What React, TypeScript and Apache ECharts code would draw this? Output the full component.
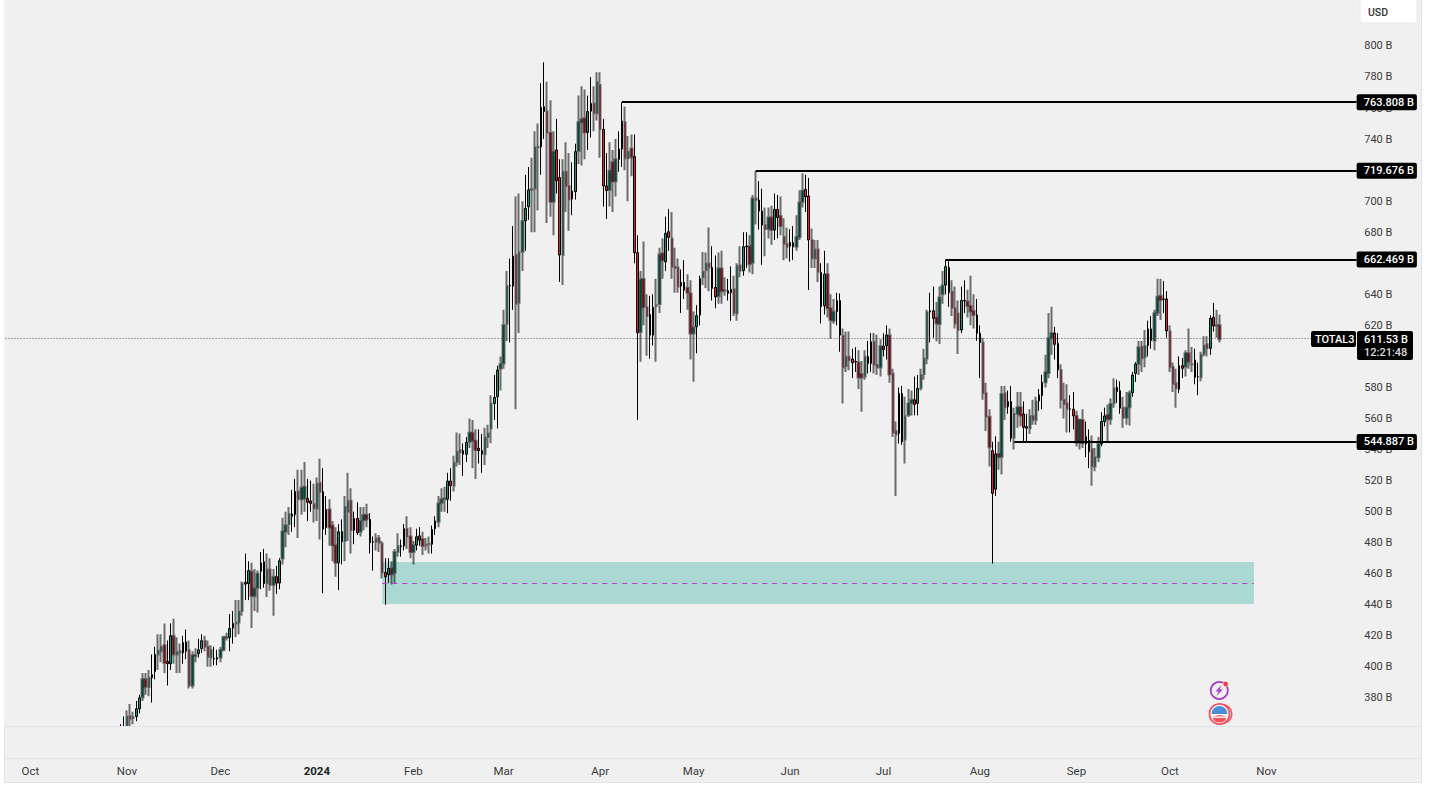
import React, { useEffect, useRef } from "react";
import * as echarts from "echarts";

// Each row is [open, close, low, high], in billions of USD.
const lateOct23 = [
  [358, 360, 355, 363], [358, 361, 354, 368],
];
const nov23 = [
  [360, 368, 355, 372], [368.2, 366.5, 360, 376], [367.5, 367, 363, 371], [368, 373, 365, 378], [373, 380, 370, 382],
  [380.5, 392, 378, 396], [392, 387, 382, 396], [387, 393, 381, 398], [393, 395, 377, 408], [397, 408, 392, 413],
  [408, 410.5, 398, 421], [410, 413, 403, 421], [414, 402.5, 396, 428], [403.5, 402, 388, 417], [402, 420, 398, 428],
  [420, 408, 402, 431], [408, 409.6, 396, 419], [409.3, 410, 396, 415], [409, 415.7, 402, 420], [416, 410, 405, 424],
  [410.8, 388, 386, 417], [388, 407.5, 386, 410], [407, 407.5, 403, 412], [408.6, 411, 406, 418], [411.8, 416.8, 409, 421],
  [416.8, 413, 410, 420], [413, 406.5, 400, 417], [406, 410.8, 400, 414], [405.5, 405, 401, 413], [405, 405.8, 401, 411],
];
const dec23 = [
  [406, 410.8, 403, 413], [411, 419, 410, 420], [419, 418.7, 417, 422], [419, 424.7, 410, 434], [425, 428, 415, 436],
  [428, 428.4, 419, 443], [428.6, 435.7, 421, 443], [436, 453.7, 433, 455], [454.4, 453.3, 443, 473], [453.7, 462, 443, 468],
  [461.5, 445.6, 425, 467], [445.6, 450.5, 436, 463], [451, 460, 435, 462], [461.6, 467, 450, 474], [467.7, 453.7, 451, 476],
  [453.7, 462.8, 445, 473], [462.8, 452.7, 449, 470], [452.7, 458, 433, 463], [458, 454, 447, 465], [454, 468.3, 450, 470],
  [469.8, 487.2, 466, 496], [487, 491.3, 477, 500], [492, 498.4, 485, 503], [498.4, 497, 487, 514], [498, 513, 490, 521],
  [513, 508, 483, 527], [508, 515.4, 498, 527], [508.5, 516, 500, 532], [508.5, 506, 494, 521], [506.8, 505.3, 500, 520],
  [504.8, 502, 493, 518],
];
const jan24 = [
  [502, 518, 494, 522], [518.6, 512.8, 482, 534], [512.8, 488.7, 447.4, 528], [489.8, 501.4, 485, 510], [501.4, 489.8, 478, 508],
  [491, 478.4, 468, 494], [478.4, 467, 458, 490], [467, 487, 449.4, 492], [487, 480.6, 466, 495], [481, 503, 468, 510],
  [500, 507, 481, 525], [507, 488, 473, 515], [488, 495.6, 479, 500], [495.6, 486.4, 485, 506], [487, 494, 484, 503],
  [494.5, 497.8, 488, 503], [498, 495, 490, 505], [495, 480, 473, 499], [480.6, 480.4, 462, 484], [480.6, 482.7, 475, 486],
  [483, 480, 474, 485], [479.5, 460.8, 457, 481], [460.8, 458, 440, 470], [459.5, 463.4, 454, 470], [463.4, 459.5, 453, 468],
  [460.6, 474, 454, 476], [474, 477.8, 471, 486], [478, 477.5, 471, 482], [477.8, 489, 475, 492], [489, 483.8, 476, 497],
  [484, 474, 470, 490],
];
const feb24 = [
  [474, 478.4, 466, 481], [478.4, 483.8, 475, 489], [484.4, 481.7, 478, 490], [482.3, 477.8, 472, 487], [478.8, 478.4, 475, 483],
  [479, 479.3, 473, 484], [479, 488.5, 473, 491], [489, 494, 485, 497], [493.5, 505.3, 490, 510], [505.5, 508, 500, 515],
  [508, 508.5, 500, 516], [508, 519.7, 499, 525], [519.7, 516.7, 507, 528], [516.7, 531.5, 513, 536], [532, 538.6, 529, 551],
  [539.7, 538.2, 530, 550.4], [539.3, 537, 523, 544], [537, 544.6, 532, 548], [545, 550.8, 541, 560], [550.8, 545.7, 528, 559],
  [545.7, 539.7, 521, 553], [540.8, 539.3, 531, 553], [539.3, 537, 525, 550], [537, 547.8, 530, 554], [548, 550.4, 541, 556],
  [553.6, 569.7, 544, 575], [569.7, 573.6, 559, 588], [574, 591.2, 553.6, 594], [592, 595, 578, 600],
];
const mar24 = [
  [595.5, 620.2, 592, 630], [621, 645.3, 610, 655], [645.5, 645.8, 609, 663], [645.3, 664.6, 630, 684], [665.3, 634, 566, 703],
  [634.6, 667, 615, 705], [667.4, 687.2, 655, 700], [687.4, 695.4, 668, 717], [696.4, 707.2, 688, 722], [707.4, 707.7, 680, 728],
  [708.2, 734.7, 680, 745], [734.7, 735, 694, 750], [735, 760.5, 717, 776], [760.9, 757.7, 740, 789.5], [758, 744, 686, 777],
  [744, 699.7, 690, 765], [699.7, 731.9, 678, 745], [733, 713.2, 705, 753], [715.3, 665.3, 648, 727], [665.3, 719, 646, 727],
  [719, 709.8, 693, 738], [709.8, 701, 681, 731], [701.4, 706.5, 691, 725], [706.1, 731.9, 701, 737], [732.3, 750.8, 724, 768],
  [750.8, 752.7, 723, 774], [753.4, 744.3, 727, 772], [744.3, 757.7, 733, 768], [758, 763, 741, 780], [763, 756.6, 745, 774],
  [756.6, 776.6, 752, 783],
];
const apr24 = [
  [774.8, 746.5, 728, 783], [746.3, 709.8, 696.5, 753], [709.8, 706.8, 688.5, 731], [707.2, 719.6, 696.5, 738], [725, 712.6, 693, 733],
  [712.8, 727, 703, 740], [727, 733.6, 719, 745], [733.6, 751.6, 722, 763.8], [750.8, 727.6, 720, 761], [727.6, 731.9, 700, 742],
  [734, 728.2, 716, 743], [728.7, 666.8, 660, 743], [666.8, 615.2, 559, 678], [615.8, 649.6, 596.5, 655], [649.8, 631.6, 620, 674],
  [631.6, 626, 600.5, 640], [627, 613.7, 598.5, 639], [613.7, 631.6, 607, 640], [632.4, 633, 596.5, 650], [633.7, 665.7, 628, 670],
  [666.4, 662, 650, 676], [661, 679.3, 655, 690], [680.3, 676.7, 668, 695], [676, 657.8, 650, 693], [657.8, 657, 641, 670],
  [657.3, 644.9, 641, 663], [645.3, 647.7, 628, 656], [647.7, 642.7, 637, 662], [644.2, 641, 630, 653], [640.6, 614.8, 598, 649],
];
const may24 = [
  [614.8, 618.7, 583.7, 629], [619.1, 626.2, 602, 633], [626.6, 650.2, 620, 652], [651, 654.5, 646, 667.3], [655.6, 659.9, 644, 667],
  [659.9, 657.3, 642, 683], [657.3, 643.8, 636, 671], [644.4, 638.4, 631, 665], [638.8, 656.7, 634, 667], [656.7, 642, 634, 668],
  [642.3, 642.6, 639, 651], [642.3, 640.6, 636, 650], [641, 643.2, 623, 658], [643.2, 628, 626, 652], [627.7, 658.4, 623, 660],
  [658.8, 655.2, 651, 671], [655.2, 670.6, 652, 680], [670.6, 671, 657, 680], [671, 659.3, 654, 678], [660.3, 701.8, 653, 704],
  [701.8, 700.7, 685, 719.676], [700.7, 693.6, 681.7, 713], [693.6, 684.6, 659, 708], [684.6, 682, 664.6, 696], [682, 689.5, 676, 696],
  [689.5, 681.4, 672, 697], [681.4, 694.7, 675, 705], [694.7, 689.5, 676, 704], [690.4, 684, 678, 703], [677, 672.4, 662, 689],
  [672.4, 670.6, 663, 683],
];
const jun24 = [
  [671, 673.4, 661, 682], [673.4, 670.6, 662, 684], [670.6, 677, 668, 691], [677, 699.2, 675, 707], [699.7, 706.7, 696, 718],
  [707.6, 702.9, 693, 717], [703.3, 675, 642.8, 715], [675, 663.1, 657, 682.4], [663.1, 668.9, 657, 675], [668.9, 654.5, 648, 675],
  [654.1, 632, 621.2, 660], [632.6, 653, 627, 668], [653, 631, 625, 660], [631, 623.4, 611.2, 640], [623, 628.8, 621, 637],
  [628.8, 635.9, 620, 641], [635.9, 613.7, 603, 640.6], [613.3, 592.9, 569.7, 618], [593.8, 599.8, 590, 616], [599.8, 597.6, 591, 616],
  [598.3, 595.9, 586, 605], [596.8, 596.5, 590, 606], [596, 586.4, 579, 604], [588.6, 586.4, 564.3, 597], [587, 599.8, 585, 604],
  [599.8, 595.5, 589, 610], [595.5, 609.4, 590, 615], [609.4, 594.4, 589, 615], [594.4, 592.9, 588, 614], [592.9, 606.6, 587, 611],
];
const jul24 = [
  [606.6, 604.5, 600, 615], [606.9, 613.7, 598, 620], [613.7, 588.4, 583, 618], [589, 550.8, 548, 592], [552, 549.7, 510, 558],
  [550.4, 576.1, 543.8, 580], [576.1, 545, 543, 581], [546.5, 561.5, 531, 574], [562.2, 569.7, 561, 579], [570, 572, 562, 578],
  [572, 569, 562, 587], [569.7, 579.4, 562, 588], [579.7, 588, 578, 592], [588.6, 598.7, 585, 605], [598.7, 628.4, 595, 630],
  [628.7, 629.4, 609, 641], [629.4, 624.5, 612, 645], [625, 621.2, 609.7, 635], [620.8, 638, 608, 645], [640, 645.5, 634, 655],
  [646, 657.8, 640, 662.469], [657.3, 641, 632, 662.469], [641.6, 631.3, 626, 649], [631, 621.2, 618, 645], [627.7, 617, 601.6, 636],
  [617, 636, 615, 645], [636, 635.7, 628, 649], [635.3, 632.5, 625, 643], [632.5, 629, 620, 652], [629.3, 626.7, 618, 640],
  [626.7, 614.9, 610, 637],
];
const aug24 = [
  [614.9, 608.9, 586, 620], [609, 576.2, 572, 612], [576.2, 561.2, 552, 583], [561.2, 541.4, 529, 566], [539.3, 511.8, 466.5, 545],
  [514.4, 537.1, 510, 548.5], [537.1, 535, 527, 545], [535.4, 575.8, 524, 581], [576.2, 567.2, 559, 581], [567.6, 570.9, 563, 578],
  [570.9, 547.2, 545, 581], [547.6, 562.9, 540, 567], [563, 567.2, 554, 577], [567.2, 561.8, 555, 577], [562.9, 554.3, 545, 571],
  [554.8, 553.7, 545, 563], [553.7, 561.6, 550, 566], [561.6, 559, 556, 572], [559, 570.9, 556, 574], [571.3, 575.2, 565, 579],
  [574.8, 583.3, 566, 588], [583.3, 589.8, 580, 601], [589.3, 611.7, 586, 628], [611.7, 615, 601, 632], [615, 607.8, 598, 619],
  [608.4, 591.3, 586, 615], [591.3, 572, 566.5, 595], [572, 569.4, 560, 583], [569.8, 566.2, 551, 582], [566.2, 566, 551, 575],
  [566, 561.6, 553, 577],
];
const sep24 = [
  [561.6, 544.6, 542, 565], [544.6, 559, 540, 560], [559, 544, 541, 566], [543.6, 548.3, 535, 558], [546, 538.6, 528, 553],
  [540.4, 529, 516.6, 549], [529, 535, 526, 541], [535, 543.6, 532, 548], [543.6, 558, 542, 564], [558, 561.6, 555, 567],
  [562.3, 559.5, 544.2, 569], [559.5, 569.4, 556, 573], [569.8, 579.5, 567, 586], [580, 577.3, 570, 585], [578, 566.6, 563, 584],
  [567, 560.5, 554, 574], [560.5, 567, 556, 577], [567.2, 576.2, 555.5, 578], [576.7, 588, 574, 590], [589, 595.1, 583.5, 596.3],
  [595.1, 605.9, 588, 610], [606.3, 598.8, 590, 610], [599.4, 606.7, 593, 617], [607, 617.7, 600, 623], [617.7, 610.2, 605, 626],
  [610.2, 627.8, 604, 630], [628.2, 638.5, 626, 650], [639, 636.4, 623.5, 650], [637, 636.8, 628, 648.5], [637, 616.4, 612, 642],
];
const oct24 = [
  [616, 593, 590, 620], [593.4, 582.3, 577, 596], [582.7, 579.5, 567, 592], [578.8, 594, 576.5, 600], [594, 592.3, 586, 599],
  [593.4, 602, 587, 604], [602, 596.6, 592, 618], [595, 594.9, 590, 606], [597.7, 586.5, 582, 605], [587, 586.9, 575, 596],
  [586.5, 601, 584, 603], [601.6, 607, 600, 613], [607.8, 605.2, 600, 613], [605.2, 624.5, 601, 626.5], [625.2, 619.6, 616, 634.4],
  [620, 619.9, 612, 630], [620, 611, 609, 627],
];

const candleRows = [
  ...lateOct23, ...nov23, ...dec23, ...jan24, ...feb24, ...mar24, ...apr24,
  ...may24, ...jun24, ...jul24, ...aug24, ...sep24, ...oct24,
];
const firstCandleIndex = 37;

// 600, 660 and 720 lie wholly behind the price tags in the reference
const priceTicks = [380, 400, 420, 440, 460, 480, 500, 520, 540, 560, 580, 620, 640, 680, 700, 740, 760, 780, 800];
const monthNames = ["2024", "Feb", "Mar", "Apr", "May", "Jun", "Jul", "Aug", "Sep", "Oct", "Nov", "Dec"];

const levels = [
  { value: 763.808, label: "763.808 B", startIndex: 198 },
  { value: 719.676, label: "719.676 B", startIndex: 241 },
  { value: 662.469, label: "662.469 B", startIndex: 302 },
  { value: 544.887, label: "544.887 B", startIndex: 324 },
];
const lastPrice = 611.53;
const zoneTop = 467.5;
const zoneBottom = 440.5;
const zoneMid = 454;
const zoneStartIndex = 121;
const zoneEndIndex = 401;

const UP = "#089981";
const DOWN = "#ee1c30";
const FONT = "Roboto, sans-serif";

// one category per day, starting a week before the first axis label
const dayCount = 435;
const categories: string[] = [];
for (let i = 0; i < dayCount; i++) {
  categories.push(new Date(Date.UTC(2023, 8, 23 + i)).toISOString().slice(0, 10));
}

const candleData = categories.map((_, i) => {
  const row = candleRows[i - firstCandleIndex];
  if (!row) return { value: ["-", "-", "-", "-"] };
  const sharp = i % 5 === 2 || i % 5 === 3;
  const fill = row[1] < row[0] ? DOWN : UP;
  const edge = sharp ? "#000" : "rgba(0,0,0,0.55)";
  return {
    value: row,
    itemStyle: {
      color: fill,
      color0: fill,
      borderColor: edge,
      borderColor0: edge,
      borderWidth: sharp ? 1 : 2,
    },
  };
});

export default function App() {
  const ref = useRef<HTMLDivElement>(null);
  useEffect(() => {
    const chart = echarts.init(ref.current!, null, { renderer: "svg" });
    const tag = (text: string, x: number, y: number, fill = "#fff", size = 11) => ({
      type: "text",
      x,
      y,
      z: 60,
      style: { text, fill, font: `500 ${size}px ${FONT}`, textVerticalAlign: "middle" },
    });
    const box = (x: number, y: number, width: number, height: number) => ({
      type: "rect",
      z: 59,
      shape: { x, y, width, height, r: 2 },
      style: { fill: "#000" },
    });
    const rule = (x1: number, y1: number, x2: number, y2: number) => ({
      type: "line",
      z: 31,
      shape: { x1, y1, x2, y2 },
      style: { stroke: "#e0e3eb", lineWidth: 1 },
    });
    chart.setOption({
      animation: false,
      backgroundColor: "#fff",
      grid: { left: 4, top: 0, width: 1354.2, height: 726, containLabel: false },
      xAxis: {
        type: "category",
        data: categories,
        axisLine: { show: false },
        axisTick: { show: false },
        splitLine: { show: false },
        z: 32,
        axisLabel: {
          margin: 39,
          color: "#3a3a3a",
          fontSize: 11.5,
          fontFamily: FONT,
          hideOverlap: false,
          interval: (_: number, v: string) => v.endsWith("-01"),
          formatter: (v: string) => {
            const m = Number(v.slice(5, 7)) - 1;
            return m === 0 ? `{b|${monthNames[0]}}` : monthNames[m];
          },
          rich: { b: { fontWeight: "bold", fontSize: 11.5, fontFamily: FONT, color: "#222" } },
        },
      },
      yAxis: {
        type: "value",
        position: "right",
        min: 361.9,
        max: 829.6,
        scale: true,
        axisLine: { show: false },
        axisTick: { show: false },
        splitLine: { show: false },
        axisLabel: {
          customValues: priceTicks,
          margin: 6,
          color: "#3a3a3a",
          fontSize: 11,
          fontFamily: FONT,
          formatter: (v: number) => `${v} B`,
        },
      },
      series: [
        {
          type: "candlestick",
          barWidth: 2,
          clip: true,
          data: candleData,
          markArea: {
            silent: true,
            itemStyle: { color: "#acd8d3" },
            data: [
              [
                { xAxis: categories[zoneStartIndex], yAxis: zoneTop },
                { xAxis: categories[zoneEndIndex], yAxis: zoneBottom },
              ],
            ],
          },
          markLine: {
            silent: true,
            symbol: "none",
            precision: 3,
            data: [
              ...levels.map((l) => [
                {
                  xAxis: categories[l.startIndex],
                  yAxis: l.value,
                  lineStyle: { color: "#000", width: 2, type: "solid" },
                  label: {
                    show: true,
                    position: "end",
                    distance: 0,
                    formatter: l.label,
                    backgroundColor: "#000",
                    color: "#fff",
                    fontSize: 11,
                    fontFamily: FONT,
                    fontWeight: 500,
                    padding: [3, 3, 2, 7],
                    borderRadius: 2,
                  },
                },
                { xAxis: categories[dayCount - 1], yAxis: l.value },
              ]),
              [
                {
                  xAxis: categories[0],
                  yAxis: lastPrice,
                  lineStyle: { color: "#555", width: 1, type: [1, 2] },
                  label: { show: false },
                },
                { xAxis: categories[420], yAxis: lastPrice },
              ],
              [
                {
                  xAxis: categories[zoneStartIndex],
                  yAxis: zoneMid,
                  lineStyle: { color: "#b93ecb", width: 1, type: [5, 5] },
                  label: { show: false },
                },
                { xAxis: categories[zoneEndIndex], yAxis: zoneMid },
              ],
            ],
          },
        },
      ],
      graphic: [
        { type: "rect", z: -5, shape: { x: 4, y: 0, width: 1418, height: 783 }, style: { fill: "#f0f0f0" } },
        // the time-scale strip hides whatever runs below the price pane
        { type: "rect", z: 30, shape: { x: 4, y: 727, width: 1418, height: 56 }, style: { fill: "#f0f0f0" } },
        rule(4, 726.5, 1422, 726.5),
        rule(4, 758.5, 1422, 758.5),
        rule(4, 782.5, 1422, 782.5),
        rule(1421.5, 0, 1421.5, 783),
        rule(4.5, 726, 4.5, 783),
        {
          type: "rect",
          z: 5,
          shape: { x: 1360, y: -3, width: 57, height: 26, r: 3 },
          style: { fill: "#fff", stroke: "#e9ebf0", lineWidth: 1 },
        },
        tag("USD", 1368, 12, "#333", 10.5),
        box(1311, 331, 45, 16),
        tag("TOTAL3", 1315, 339.5),
        box(1357, 331, 56, 29),
        tag("611.53 B", 1364, 339.5),
        tag("12:21:48", 1364, 352.5, "#ddd"),
        // event icons
        {
          type: "circle",
          z: 20,
          shape: { cx: 1219.3, cy: 690.5, r: 8.5 },
          style: { fill: "none", stroke: "#a63fc4", lineWidth: 1.8 },
        },
        {
          type: "polygon",
          z: 20,
          shape: { points: [[1221.5, 685], [1215.5, 691.5], [1218.6, 691.5], [1216.5, 696], [1222.8, 689.5], [1219.7, 689.5]] },
          style: { fill: "#a63fc4" },
        },
        { type: "circle", z: 21, shape: { cx: 1225.7, cy: 684, r: 2.6 }, style: { fill: "#f23645", stroke: "#f0f0f0", lineWidth: 0.6 } },
        { type: "circle", z: 20, shape: { cx: 1222.3, cy: 714, r: 9.5 }, style: { fill: "none", stroke: "#f0515f", lineWidth: 1.4 } },
        { type: "circle", z: 20, shape: { cx: 1219.5, cy: 714, r: 10 }, style: { fill: "#fff", stroke: "#f0515f", lineWidth: 1.8 } },
        {
          type: "sector",
          z: 21,
          shape: { cx: 1219.5, cy: 714, r: 8, startAngle: Math.PI, endAngle: Math.PI * 2 },
          style: { fill: "#4a90d9" },
        },
        {
          type: "sector",
          z: 21,
          shape: { cx: 1219.5, cy: 715, r: 7.5, startAngle: 0.2, endAngle: Math.PI - 0.2 },
          style: { fill: "#f0515f" },
        },
        { type: "rect", z: 22, shape: { x: 1212, y: 716.5, width: 15, height: 1.4 }, style: { fill: "#fff" } },
      ],
    });
    return () => chart.dispose();
  }, []);
  return (
    <div
      ref={ref}
      style={{ position: "fixed", left: 0, top: 0, width: 1442, height: 787, background: "#fff" }}
    />
  );
}
